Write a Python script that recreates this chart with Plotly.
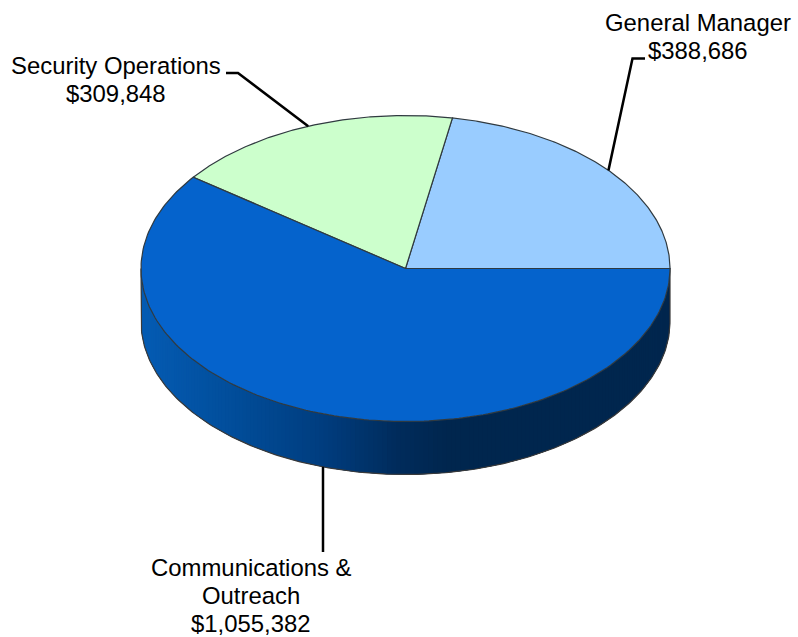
import numpy as np
import plotly.graph_objects as go

categories = ["General Manager", "Security Operations", "Communications &<br>Outreach"]
values = [388686, 309848, 1055382]
slice_colors = ["#99CCFF", "#CCFFCC", "#0563CC"]
W, H = 798, 637
CX, CY, RX, RY, DEPTH = 405.5, 268.5, 264.5, 153.0, 53.0

wall_u = [-1.0, -0.66, -0.32, -0.03, 0.17, 1.0]
wall_r = [5, 2, 0, 0, 0, 0]
wall_g = [92, 78, 62, 44, 38, 38]
wall_b = [180, 155, 128, 92, 78, 78]


def rng_x():
    return [(0 - CX) / RX, (W - CX) / RX]


def rng_y():
    return [(CY - H) / RY, CY / RY]


fig = go.Figure()
total = sum(values)
spans = [v / total * 2 * np.pi for v in values]
starts = np.concatenate([[0], np.cumsum(spans)[:-1]])
d = DEPTH / RY

# side wall (front half): each band runs on under the next one, so no seams show
edges = np.linspace(np.pi, 2 * np.pi, 181)
for i, (a0, a1) in enumerate(zip(edges[:-1], edges[1:])):
    th = np.linspace(a0, edges[min(i + 3, 180)], 6)
    xs = np.cos(th)
    ys = np.sin(th)
    u = np.cos((a0 + a1) / 2)
    c = "rgb(%d,%d,%d)" % (np.interp(u, wall_u, wall_r), np.interp(u, wall_u, wall_g), np.interp(u, wall_u, wall_b))
    fig.add_trace(go.Scatter(
        x=np.concatenate([xs, xs[::-1]]), y=np.concatenate([ys, ys[::-1] - d]),
        mode="lines", fill="toself", fillcolor=c, line=dict(width=0),
        hoverinfo="skip", showlegend=False))

# side wall outline
th = np.linspace(np.pi, 2 * np.pi, 240)
fig.add_trace(go.Scatter(
    x=np.concatenate([[-1], np.cos(th), [1]]), y=np.concatenate([[0], np.sin(th) - d, [0]]),
    mode="lines", line=dict(color="#3a3a3a", width=1.2), hoverinfo="skip", showlegend=False))

# top slices
for s, sp, col in zip(starts, spans, slice_colors):
    th = np.linspace(s, s + sp, 200)
    fig.add_trace(go.Scatter(
        x=np.concatenate([[0], np.cos(th), [0]]), y=np.concatenate([[0], np.sin(th), [0]]),
        mode="lines", fill="toself", fillcolor=col, line=dict(color="#303a40", width=1.2),
        hoverinfo="skip", showlegend=False))

# leader lines, anchored on each slice's mid-angle
mids = starts + np.array(spans) / 2
bends = [[(632.5, 58.5), (645, 58.5)], [(238, 73), (226, 73)], [(None, 552)]]
drop = [0, 0, d]
for m, b, dd in zip(mids, bends, drop):
    x0, y0 = np.cos(m), np.sin(m) - dd
    px = [x0 + 0.6 / RX * (dd > 0)]
    py = [y0]
    for bx, by in b:
        px.append(px[0] if bx is None else (bx - CX) / RX)
        py.append((CY - by) / RY)
    fig.add_trace(go.Scatter(x=px, y=py, mode="lines", line=dict(color="black", width=2.5),
                             hoverinfo="skip", showlegend=False))

label_x = [698, 116, 251]
label_y = [22, 65, 567]
LINE_GAP = 28.3
for cat, v, lx, ly in zip(categories, values, label_x, label_y):
    lines = cat.split("<br>") + [f"${v:,}"]
    for k, line in enumerate(lines):
        fig.add_annotation(x=(lx - CX) / RX, y=(CY - (ly + k * LINE_GAP)) / RY, text=line, showarrow=False,
                           xanchor="center", yanchor="middle", align="center",
                           font=dict(family="Liberation Sans", size=23.9, color="black"))

fig.update_layout(
    width=W, height=H, margin=dict(l=0, r=0, t=0, b=0), plot_bgcolor="white", paper_bgcolor="white",
    xaxis=dict(range=rng_x(), visible=False, fixedrange=True),
    yaxis=dict(range=rng_y(), visible=False, fixedrange=True),
)
fig.write_html("out.html", config={"displayModeBar": False},
               post_script="document.body.style.margin='0';document.body.style.overflow='hidden';")
